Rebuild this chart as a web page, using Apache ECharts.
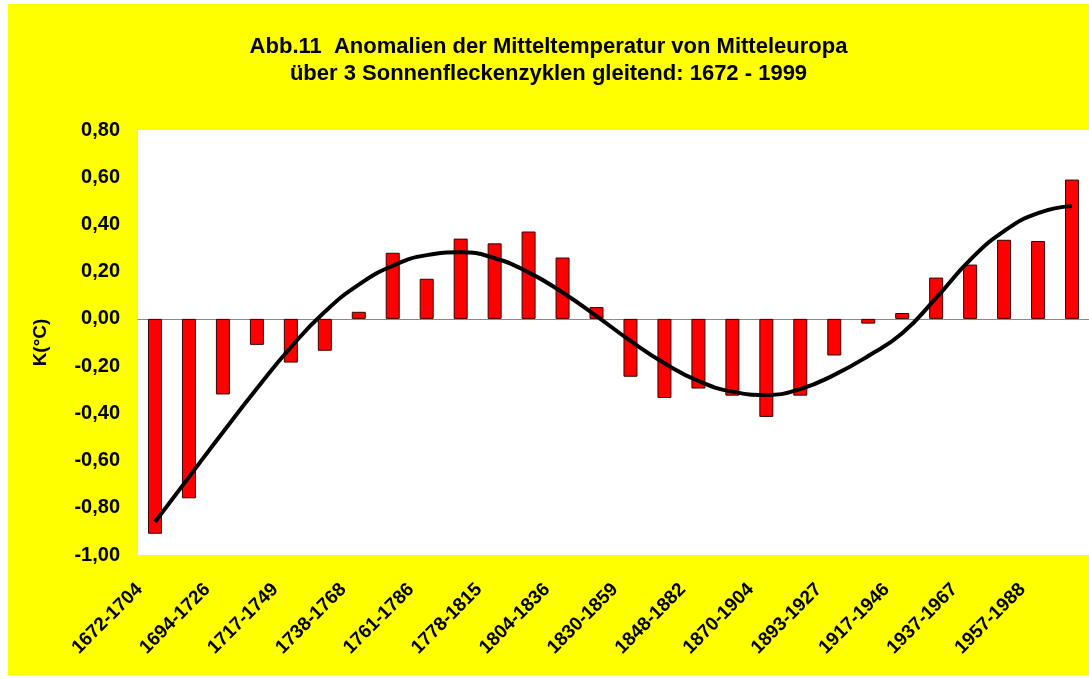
<!DOCTYPE html>
<html>
<head>
<meta charset="utf-8">
<script src="https://cdn.jsdelivr.net/npm/echarts@6/dist/echarts.min.js"></script>
<style>
  html, body { margin: 0; padding: 0; background: #ffffff; }
  #chart { position: absolute; left: 8px; top: 4px; width: 1081px; height: 671px; }
</style>
</head>
<body>
<div id="chart"></div>
<script>
// 3-cycle sliding windows (every second label visible)
const periods = [
  '1672-1704', '1683-1715', '1694-1726', '1705-1738', '1717-1749', '1728-1760',
  '1738-1768', '1749-1777', '1761-1786', '1770-1799', '1778-1815', '1790-1826',
  '1804-1836', '1818-1848', '1830-1859', '1839-1870', '1848-1882', '1859-1893',
  '1870-1904', '1882-1915', '1893-1927', '1905-1937', '1917-1946', '1927-1957',
  '1937-1967', '1947-1978', '1957-1988', '1968-1999'
];

// anomalies K(°C)
const anomalies = [
  -0.91, -0.76, -0.32, -0.11, -0.185, -0.135, 0.03, 0.28, 0.17, 0.34,
  0.32, 0.37, 0.26, 0.05, -0.245, -0.335, -0.295, -0.325, -0.415, -0.325,
  -0.155, -0.02, 0.025, 0.175, 0.23, 0.335, 0.33, 0.59
];

// trend curve
const trend = [
  -0.86, -0.67, -0.48, -0.295, -0.12, 0.03, 0.145, 0.225, 0.27, 0.282,
  0.257, 0.197, 0.112, 0.012, -0.093, -0.188, -0.263, -0.308, -0.322, -0.297,
  -0.237, -0.157, -0.061, 0.089, 0.25, 0.372, 0.448, 0.478
];

const yMin = -1.0;
const yMax = 0.8;
const yStep = 0.2;

const fmt = (v) => {
  if (Math.abs(v) < 1e-9) v = 0;
  return v.toFixed(2).replace('.', ',');
};

const chartInstance = echarts.init(document.getElementById('chart'));

const option = {
  backgroundColor: '#ffff00',
  animation: false,
  textStyle: { fontFamily: 'Liberation Sans, Arial, sans-serif' },
  title: {
    text: 'Abb.11  Anomalien der Mitteltemperatur von Mitteleuropa\nüber 3 Sonnenfleckenzyklen gleitend: 1672 - 1999',
    left: 'center',
    top: 24,
    textStyle: {
      fontSize: 22,
      fontWeight: 'bold',
      color: '#000',
      lineHeight: 27,
    },
  },
  grid: {
    left: 130,
    right: 0,
    top: 126,
    bottom: 120,
    show: true,
    backgroundColor: '#ffffff',
    borderWidth: 0,
  },
  xAxis: {
    type: 'category',
    data: periods,
    axisLine: { lineStyle: { color: '#8a8a8a', width: 1 } },
    axisTick: { show: false },
    axisLabel: {
      interval: 1,
      rotate: 45,
      margin: 16,
      padding: [0, 22, 0, 0],
      fontSize: 19,
      fontWeight: 'bold',
      color: '#000',
    },
  },
  yAxis: {
    type: 'value',
    min: yMin,
    max: yMax,
    interval: yStep,
    name: 'K(°C)',
    nameLocation: 'middle',
    nameGap: 88,
    nameTextStyle: { fontSize: 19, fontWeight: 'bold', color: '#000' },
    axisLine: { show: false },
    axisTick: { show: false },
    splitLine: { show: false },
    axisLabel: {
      margin: 18,
      fontSize: 20,
      fontWeight: 'bold',
      color: '#000',
      formatter: fmt,
    },
  },
  series: [
    {
      name: 'Anomalie',
      type: 'bar',
      data: anomalies,
      barWidth: 14,
      itemStyle: { color: '#ff0000', borderColor: '#3a0000', borderWidth: 1 },
    },
    {
      name: 'Trend',
      type: 'line',
      data: trend,
      smooth: true,
      symbol: 'none',
      z: 5,
      lineStyle: { color: '#000', width: 4 },
    },
  ],
};

chartInstance.setOption(option);
</script>
</body>
</html>
